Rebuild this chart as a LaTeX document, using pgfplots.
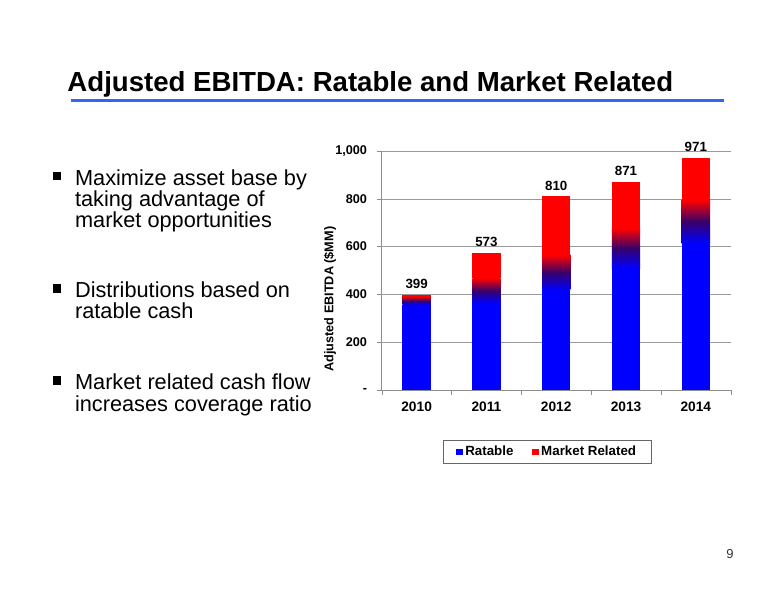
\documentclass[border=0pt]{standalone}
\usepackage{pgfplots}
\pgfplotsset{compat=1.18}
\usepackage{fontspec}
\setmainfont{Liberation Sans}
\definecolor{ratblue}{RGB}{0,0,255}
\definecolor{mktred}{RGB}{255,0,0}
\definecolor{midmix}{RGB}{55,0,105}
\definecolor{rulebl}{RGB}{51,102,238}
\pgfplotsset{chartbox/.style={
  at={(286.3pt,157.5pt)}, anchor=south west,
  scale only axis, width=261.75pt, height=179.25pt,
  xmin=-0.5, xmax=4.5, ymin=0, ymax=1000},
  barbox/.style={chartbox, hide axis, ybar stacked, bar width=21.25pt},
  ratstyle/.style={fill=ratblue, draw=none},
  transtyle/.style={draw=none, bottom color=ratblue, top color=mktred, middle color=midmix},
  mktstyle/.style={fill=mktred, draw=none}}
\begin{document}
\begin{tikzpicture}
\path[use as bounding box] (0pt,0pt) rectangle (582pt,450pt);
% title
\node[anchor=base west, inner sep=0pt, font=\fontsize{20.7}{24}\selectfont\bfseries] at (50.4pt,381.2pt) {Adjusted EBITDA: Ratable and Market Related};
\draw[line width=2.25pt, rulebl] (53.25pt,374.25pt) -- (543pt,374.25pt);
% bullets
\foreach \yy in {318.0,233.6,164.7}{
  \fill (39.6pt,\yy pt-3.1pt) rectangle (45.8pt,\yy pt+3.1pt);
}
\begin{scope}[every node/.style={anchor=base west, inner sep=0pt, font=\fontsize{16.3}{16}\selectfont}]
\node at (56.1pt,311.0pt) {Maximize asset base by};
\node at (56.1pt,295.3pt) {taking advantage of};
\node at (56.1pt,279.3pt) {market opportunities};
\node at (56.1pt,226.65pt) {Distributions based on};
\node at (56.1pt,210.9pt) {ratable cash};
\node at (56.1pt,157.7pt) {Market related cash flow};
\node at (56.1pt,141.2pt) {increases coverage ratio};
\end{scope}
% page number
\node[anchor=base, inner sep=0pt, font=\fontsize{9.75}{11}\selectfont, text=black!80] at (547.5pt,31.3pt) {9};
% frame, grid, ticks, labels, legend
\begin{axis}[
  chartbox,
  axis x line*=bottom, axis y line*=left,
  axis line style={black!45},
  ymajorgrids, grid style={black!40},
  xtick={-0.5,0.5,1.5,2.5,3.5,4.5}, xticklabels={},
  extra x ticks={0,1,2,3,4},
  extra x tick labels={2010,2011,2012,2013,2014},
  extra x tick style={major tick length=0pt, xticklabel style={yshift=-5.5pt, font=\fontsize{10.3}{12}\selectfont\bfseries}},
  ytick={0,200,400,600,800,1000},
  yticklabels={-,200,400,600,800,{1,000}},
  yticklabel style={xshift=-4pt},
  tick align=outside, major tick length=3.5pt,
  tick style={black!45},
  /pgf/number format/assume math mode=true,
  tick label style={font=\fontsize{9.5}{11}\selectfont\bfseries},
  ylabel={Adjusted EBITDA (\$MM)},
  ylabel style={at={(axis description cs:-0.148,0.38)}, anchor=center, font=\fontsize{9.5}{11}\selectfont\bfseries},
  legend style={at={(0.475,-0.259)}, anchor=center, legend columns=2, draw=black!60,
    font=\fontsize{10}{12}\selectfont\bfseries, inner xsep=9.5pt, inner ysep=2.5pt,
    /tikz/every even column/.append style={column sep=12pt}},
  legend image code/.code={\fill[#1] (0pt,-2.5pt) rectangle (4.8pt,2.5pt);},
]
\addlegendimage{ratstyle}
\addlegendentry{Ratable}
\addlegendimage{mktstyle}
\addlegendentry{Market Related}
\end{axis}
% bars: one stack per year (ratable, blend, market related)
\begin{axis}[barbox]
\addplot[ratstyle] coordinates {(0,356)};
\addplot[transtyle] coordinates {(0,35)};
\addplot[mktstyle] coordinates {(0,8)};
\end{axis}
\begin{axis}[barbox]
\addplot[ratstyle] coordinates {(1,363)};
\addplot[transtyle] coordinates {(1,105)};
\addplot[mktstyle] coordinates {(1,105)};
\end{axis}
\begin{axis}[barbox]
\addplot[ratstyle] coordinates {(2,419)};
\addplot[transtyle] coordinates {(2,146)};
\addplot[mktstyle] coordinates {(2,245)};
\end{axis}
\begin{axis}[barbox]
\addplot[ratstyle] coordinates {(3,510)};
\addplot[transtyle] coordinates {(3,167)};
\addplot[mktstyle] coordinates {(3,194)};
\end{axis}
\begin{axis}[barbox]
\addplot[ratstyle] coordinates {(4,614)};
\addplot[transtyle] coordinates {(4,181)};
\addplot[mktstyle] coordinates {(4,176)};
\end{axis}
% totals
\begin{axis}[chartbox, hide axis]
\addplot[draw=none, nodes near coords, point meta=explicit symbolic,
  every node near coord/.append style={font=\fontsize{10}{12}\selectfont\bfseries, text=black, anchor=south, yshift=1pt}]
  coordinates {(0,399) [399] (1,573) [573] (2,810) [810] (3,871) [871] (4,971) [971]};
\end{axis}
\end{tikzpicture}
\end{document}
